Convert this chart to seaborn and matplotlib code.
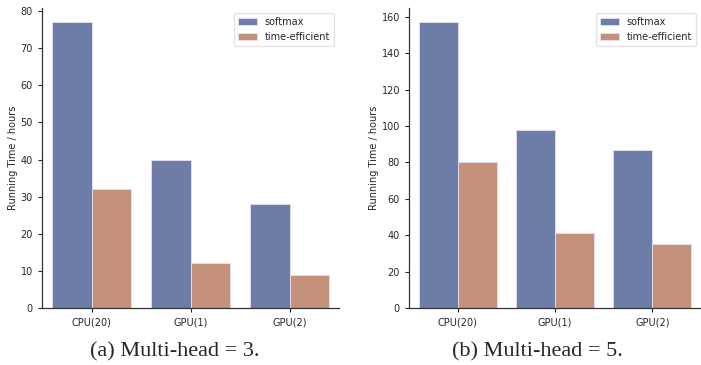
import matplotlib
matplotlib.use("Agg")
import matplotlib.pyplot as plt
import seaborn as sns
import pandas as pd

categories = ["CPU(20)", "GPU(1)", "GPU(2)"]
methods = ["softmax", "time-efficient"]
softmax_h3 = [77, 40, 28]
efficient_h3 = [32, 12, 9]
softmax_h5 = [157, 98, 87]
efficient_h5 = [80, 41, 35]
captions = ["(a) Multi-head = 3.", "(b) Multi-head = 5."]
colors = ["#6e7ca8", "#c4927a"]

sns.set_style("ticks")
plt.rcParams['font.family'] = ['DejaVu Sans']

def make_df(s, e):
    return pd.DataFrame({
        "device": categories * 2,
        "method": [methods[0]] * 3 + [methods[1]] * 3,
        "time": list(s) + list(e),
    })

fig = plt.figure(figsize=(7.01, 3.65), dpi=100)
ax1 = fig.add_axes([42/701, 57/365, 297/701, 300/365])
ax2 = fig.add_axes([409/701, 57/365, 292/701, 300/365])

for ax, (s, e), cap in zip([ax1, ax2], [(softmax_h3, efficient_h3), (softmax_h5, efficient_h5)], captions):
    df = make_df(s, e)
    sns.barplot(data=df, x="device", y="time", hue="method", palette=colors,
                saturation=1, ax=ax, edgecolor="#e8e0f0", linewidth=0.6)
    ax.set_xlabel("")
    ax.set_ylabel("Running Time / hours", fontsize=7, labelpad=2)
    ax.tick_params(labelsize=7, length=3, width=0.8)
    sns.despine(ax=ax)
    leg = ax.legend(loc="upper right", fontsize=7, frameon=True)
    leg.get_frame().set_edgecolor("#dddddd")
    for sp in ax.spines.values():
        sp.set_linewidth(0.9)
        sp.set_color("#333333")

fig.text(175/701, 1 - 352/365, captions[0], ha="center", va="center",
         fontsize=16, family="Liberation Serif")
fig.text(537/701, 1 - 352/365, captions[1], ha="center", va="center",
         fontsize=16, family="Liberation Serif")

fig.savefig("out.png", dpi=100)
